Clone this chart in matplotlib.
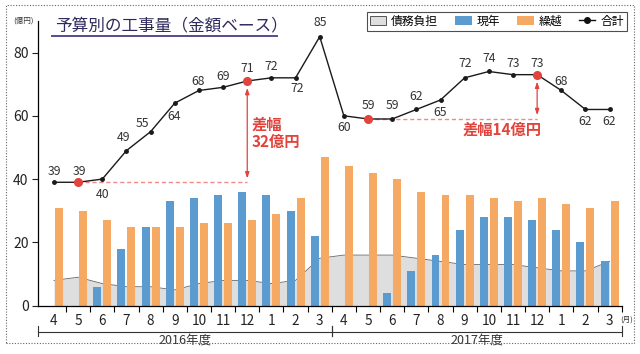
import numpy as np
import matplotlib
matplotlib.use('Agg')
import matplotlib.pyplot as plt
from matplotlib.patches import Patch, Rectangle
from matplotlib.lines import Line2D
import matplotlib.transforms as mtransforms

plt.rcParams['font.family'] = ['Noto Sans CJK JP', 'DejaVu Sans']

# 月ラベル (2016年度 + 2017年度)
months = ['4', '5', '6', '7', '8', '9', '10', '11', '12', '1', '2', '3',
          '4', '5', '6', '7', '8', '9', '10', '11', '12', '1', '2', '3']
years = ['2016年度', '2017年度']

# 債務負担 / 現年 / 繰越 / 合計 (億円)
debt = [8, 9, 7, 6, 6, 5, 7, 8, 8, 7, 8, 15,
        16, 16, 16, 15, 14, 13, 13, 13, 12, 11, 11, 14]
current = [0, 0, 6, 18, 25, 33, 34, 35, 36, 35, 30, 22,
           0, 0, 4, 11, 16, 24, 28, 28, 27, 24, 20, 14]
carry = [31, 30, 27, 25, 25, 25, 26, 26, 27, 29, 34, 47,
         44, 42, 40, 36, 35, 35, 34, 33, 34, 32, 31, 33]
total = [39, 39, 40, 49, 55, 64, 68, 69, 71, 72, 72, 85,
         60, 59, 59, 62, 65, 72, 74, 73, 73, 68, 62, 62]

# 赤丸で示す月と差幅
highlight = [1, 8, 13, 20]
gaps = [(1, 8, '差幅\n32億円'), (13, 20, '差幅14億円')]

# 数値ラベルの位置 (px)
label_off = [(0, 11), (1, 11), (0, -15), (-3, 13), (-8, 8), (-1, -13),
             (-1, 9), (0, 11), (0, 12), (0, 11), (2, -11), (1, 14),
             (0, -12), (0, 13), (0, 13), (0, 13), (0, -13), (0, 14),
             (0, 13), (0, 11), (0, 11), (0, 9), (0, -12), (0, -12)]

blue = '#5b9bd0'
orange = '#f5a963'
red = '#e2433c'

fig = plt.figure(figsize=(6.4, 3.54), dpi=100)
ax = fig.add_axes([0.0598, 0.1364, 0.9116, 0.8047])

x = np.arange(len(months))
ax.fill_between(x, 0, debt, color='#dedede', zorder=1, lw=0)
ax.plot(x, debt, color='#666666', lw=0.6, zorder=1.5)
ax.bar(x - 0.207, current, width=0.33, color=blue, zorder=2)
ax.bar(x + 0.207, carry, width=0.33, color=orange, zorder=2)

ax.plot(x, total, color='#1a1a1a', lw=1, marker='o', ms=2.5, zorder=4)
ax.plot(x[highlight], np.array(total)[highlight], 'o', color=red, ms=5.5, zorder=5)

for i, v in enumerate(total):
    dx, dy = label_off[i]
    ax.annotate(str(v), (i, v), xytext=(dx * 0.72, dy * 0.72), textcoords='offset points',
                ha='center', va='center', fontsize=8.8, color='#333333', zorder=6)

# 差幅
for a, b, txt in gaps:
    ax.plot([a, b], [total[a], total[a]], ls=(0, (3, 2)), color='#f08a8a', lw=1, zorder=3)
    ax.annotate('', xy=(b, total[a] + 1.2), xytext=(b, total[b] - 2.2),
                arrowprops=dict(arrowstyle='<|-|>,head_length=0.35,head_width=0.12',
                                color=red, lw=0.9, shrinkA=0, shrinkB=0), zorder=5)
ax.text(8.18, 54.5, gaps[0][2], color=red, fontsize=11, fontweight='bold',
        ha='left', va='center', linespacing=1.05)
ax.text(18.57, 55.5, gaps[1][2], color=red, fontsize=11, fontweight='bold',
        ha='center', va='center')

ax.set_xlim(-0.65, 23.5)
ax.set_ylim(0, 90)
ax.set_yticks([0, 20, 40, 60, 80])
ax.tick_params(axis='y', labelsize=10, length=4, width=0.8, colors='#222222', pad=3)
ax.set_xticks(np.arange(0.5, 24, 1))
ax.set_xticklabels([])
ax.tick_params(axis='x', length=4, width=0.8, direction='out')
ax.set_xticks(x, minor=True)
ax.set_xticklabels(months, minor=True)
ax.tick_params(axis='x', which='minor', length=0, labelsize=9.8, pad=6, labelcolor='#222222')
for s in ['top', 'right']:
    ax.spines[s].set_visible(False)
for s in ['left', 'bottom']:
    ax.spines[s].set_linewidth(0.9)

ax.text(23.72, -4.5, '(月)', fontsize=5.5, ha='center', va='center', clip_on=False, color='#333333')
fig.text(0.036, 0.943, '(億円)', fontsize=5.5, ha='center', va='center', color='#333333')

# 年度の括弧
trans = mtransforms.blended_transform_factory(ax.transData, ax.transAxes)
spans = [(-0.65, 11.5), (11.5, 23.5)]
for (l, r), yl in zip(spans, years):
    ax.plot([l, r], [-0.0913, -0.0913], color='#333333', lw=0.8, transform=trans, clip_on=False)
    for e in (l, r):
        ax.plot([e, e], [-0.07, -0.105], color='#333333', lw=0.8, transform=trans, clip_on=False)
    ax.text((l + r) / 2, -0.12, yl, transform=trans, ha='center', va='center',
            fontsize=9, color='#333333')

# タイトル
fig.text(0.0859, 0.928, '予算別の工事量（金額ベース）', fontsize=12, color='#2f2a5e',
         ha='left', va='center')
fig.add_artist(Line2D([0.0813, 0.433], [0.899, 0.899], color='#5a4a8a', lw=1.4))

# 凡例
handles = [Patch(facecolor='#dedede', edgecolor='#555555', lw=0.7),
           Patch(facecolor=blue), Patch(facecolor=orange),
           Line2D([], [], color='#111111', marker='o', ms=4, lw=1)]
leg = fig.legend(handles, ['債務負担', '現年', '繰越', '合計'], ncol=4,
                 loc='upper right', bbox_to_anchor=(0.979, 0.967), fontsize=8.5,
                 frameon=True, fancybox=False, edgecolor='#222222', handlelength=1.4,
                 handleheight=0.8, handletextpad=0.4, columnspacing=1.45,
                 borderpad=0.25, borderaxespad=0)
leg.get_frame().set_linewidth(0.8)

# 外枠 (点線)
fig.add_artist(Rectangle((6 / 640, 1 - 343 / 354), 628 / 640, 338 / 354,
                         fill=False, ls=(0, (1, 1.5)), lw=0.8, edgecolor='#666666'))

fig.savefig('out.png', dpi=100)
